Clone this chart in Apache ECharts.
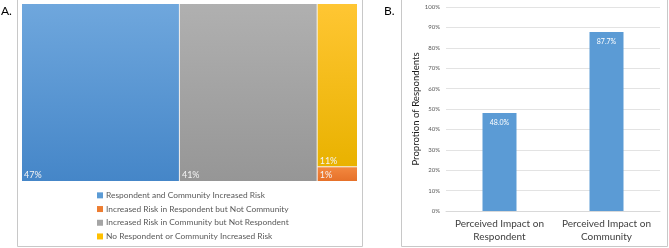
<!DOCTYPE html>
<html>
<head>
<meta charset="utf-8">
<script src="https://cdn.jsdelivr.net/npm/echarts@6/dist/echarts.min.js"></script>
<style>
  html, body { margin: 0; padding: 0; background: #fff; }
  #chart { width: 669px; height: 248px; }
</style>
</head>
<body>
<div id="chart"></div>
<script>
// panel A: share of respondents by perceived risk
const riskGroups = [
  'Respondent and Community Increased Risk',
  'Increased Risk in Respondent but Not Community',
  'Increased Risk in Community but Not Respondent',
  'No Respondent or Community Increased Risk'
]
const riskShares = [47, 1, 41, 11]

// panel B: perceived impact
const impactCategories = ['Perceived Impact on\nRespondent', 'Perceived Impact on\nCommunity']
const impactValues = [48.0, 87.7]

const grad = (top, bottom) => new echarts.graphic.LinearGradient(0, 0, 0, 1, [
  { offset: 0, color: top },
  { offset: 1, color: bottom }
])

const groupColors = ['#5B9BD5', '#ED7D31', '#A5A5A5', '#FFC000']
const groupFills = [
  grad('#6FA7DD', '#4586C8'),
  grad('#F3883F', '#E6712A'),
  grad('#B0B0B0', '#969696'),
  grad('#FFC633', '#E9B200')
]

const chart = echarts.init(document.getElementById('chart'))

chart.setOption({
  animation: false,
  textStyle: { fontFamily: 'Lato, "Liberation Sans", sans-serif' },
  graphic: [
    { type: 'rect', shape: { x: 17.5, y: -2, width: 345, height: 248.5 }, style: { fill: 'none', stroke: '#c8c8c8', lineWidth: 1 } },
    { type: 'rect', shape: { x: 401.5, y: -2, width: 266, height: 248.5 }, style: { fill: 'none', stroke: '#c8c8c8', lineWidth: 1 } },
    { type: 'text', left: 1, top: 5, style: { text: 'A.', fontSize: 12, fill: '#000', fontFamily: 'Lato, sans-serif' } },
    { type: 'text', left: 384, top: 5, style: { text: 'B.', fontSize: 12, fill: '#000', fontFamily: 'Lato, sans-serif' } }
  ],
  legend: {
    data: riskGroups,
    orient: 'vertical',
    left: 92,
    top: 185,
    height: 62,
    icon: 'rect',
    itemWidth: 6,
    itemHeight: 6,
    itemGap: 3,
    selectedMode: false,
    textStyle: { fontSize: 8.4, lineHeight: 10.7, color: '#595959', padding: [0, 0, 0, -2] }
  },
  grid: { left: 446, right: 9, top: 7, bottom: 37 },
  xAxis: {
    type: 'category',
    data: impactCategories,
    axisLine: { lineStyle: { color: '#d9d9d9' } },
    axisTick: { show: false },
    axisLabel: { interval: 0, fontSize: 10, color: '#404040', lineHeight: 13, margin: 6 }
  },
  yAxis: {
    type: 'value',
    min: 0,
    max: 100,
    interval: 10,
    name: 'Proprotion of Respondents',
    nameLocation: 'middle',
    nameGap: 24,
    nameTextStyle: { fontSize: 9.6, color: '#1a1a1a' },
    axisLabel: { formatter: '{value}%', fontSize: 6, color: '#595959', margin: 6 },
    splitLine: { lineStyle: { color: '#e3e3e3' } }
  },
  series: [
    {
      type: 'treemap',
      left: 22,
      top: 4,
      width: 335,
      height: 177,
      roam: false,
      nodeClick: false,
      breadcrumb: { show: false },
      visibleMin: 0,
      levels: [
        { itemStyle: { borderWidth: 0, gapWidth: 1, borderColor: '#eeeeee' } }
      ],
      label: {
        show: true,
        position: 'insideBottomLeft',
        fontSize: 9,
        color: '#f4f4f4',
        formatter: p => p.value + '%',
        padding: [0, 0, 1, 2]
      },
      upperLabel: { show: false },
      itemStyle: { borderWidth: 0 },
      data: riskGroups.map((name, i) => ({
        name,
        value: riskShares[i],
        itemStyle: { color: groupFills[i] }
      }))
    },
    {
      type: 'bar',
      data: impactValues,
      barWidth: 34,
      itemStyle: { color: '#5B9BD5' },
      label: {
        show: true,
        position: 'insideTop',
        distance: 6,
        formatter: p => p.value.toFixed(1) + '%',
        fontSize: 7,
        color: '#fff'
      }
    },
    // legend entries for panel A
    ...riskGroups.map((name, i) => ({
      type: 'line',
      name,
      data: [],
      itemStyle: { color: groupColors[i] }
    }))
  ]
})
</script>
</body>
</html>
